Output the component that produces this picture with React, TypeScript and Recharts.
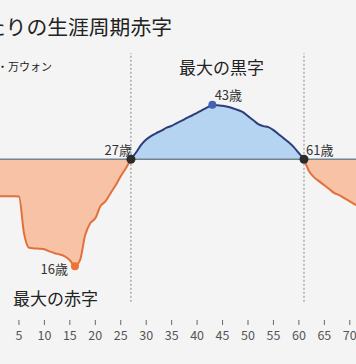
import React from 'react';
import { ComposedChart, Area, XAxis, YAxis, ReferenceLine, ReferenceDot } from 'recharts';

const ages = [
  0, 1, 2, 3, 4, 5, 6, 7, 8, 9, 10, 11, 12, 13, 14, 15, 16, 17, 18, 19,
  20, 21, 22, 23, 24, 25, 26, 27, 28, 29, 30, 31, 32, 33, 34, 35, 36, 37, 38, 39,
  40, 41, 42, 43, 44, 45, 46, 47, 48, 49, 50, 51, 52, 53, 54, 55, 56, 57, 58, 59,
  60, 61, 62, 63, 64, 65, 66, 67, 68, 69, 70, 71, 72, 73, 74, 75,
];

// 万ウォン
const deficit = [
  -1220, -1220, -1220, -1220, -1220, -1230, -2450, -2920, -2940, -2950,
  -2970, -3040, -3100, -3140, -3200, -3330, -3527, -3330, -2510, -2110,
  -1950, -1550, -1390, -1120, -860, -560, -300, 0, 220, 470,
  650, 770, 860, 940, 1040, 1100, 1190, 1270, 1360, 1440,
  1530, 1620, 1705, 1792, 1775, 1760, 1730, 1680, 1620, 1550,
  1420, 1290, 1155, 1090, 1055, 960, 825, 690, 560, 400,
  200, 0, -400, -600, -730, -860, -990, -1120, -1190, -1290,
  -1390, -1490, -1570, -1640, -1700, -1760,
];

const xTicks = [5, 10, 15, 20, 25, 30, 35, 40, 45, 50, 55, 60, 65, 70];
const surplusStart = 27;
const surplusEnd = 61;
const maxDeficitAge = 16;
const maxSurplusAge = 43;

const data = ages.map((age, i) => ({
  age,
  pos: age >= surplusStart && age <= surplusEnd ? deficit[i] : null,
  neg: age <= surplusStart || age >= surplusEnd ? deficit[i] : null,
}));

const valueAt = (age: number) => deficit[ages.indexOf(age)];

const FONT = "'Noto Sans CJK JP', 'Noto Sans', sans-serif";

const makeLabel = (text: string, dx: number, dy: number, anchor: string) => (props: any) => {
  const vb = props.viewBox || {};
  const cx = (vb.x ?? 0) + (vb.width ?? 0) / 2;
  const cy = (vb.y ?? 0) + (vb.height ?? 0) / 2;
  return (
    <text x={cx + dx} y={cy + dy} textAnchor={anchor} fontSize={13} fill="#333" fontFamily={FONT}>
      {text}
    </text>
  );
};

export default function App() {
  return (
    <div
      style={{
        position: 'absolute',
        left: 0,
        top: 0,
        width: 356,
        height: 364,
        overflow: 'hidden',
        background: '#f4f4f4',
        fontFamily: FONT,
      }}
    >
      <div style={{ position: 'absolute', left: -20, top: 0 }}>
        <ComposedChart
          width={405.25}
          height={364}
          data={data}
          margin={{ top: 53, right: 10, bottom: 14, left: 13.5 }}
        >
          <XAxis
            dataKey="age"
            type="number"
            domain={[0, 75]}
            ticks={xTicks}
            axisLine={false}
            tickLine={{ stroke: '#666', strokeWidth: 1 }}
            tickSize={5}
            tickMargin={6}
            height={30}
            interval={0}
            tick={{ fontSize: 12.5, fill: '#555', fontFamily: FONT }}
          />
          <YAxis hide domain={[-5300, 3500]} type="number" />
          <ReferenceLine
            segment={[{ x: surplusStart, y: -4700 }, { x: surplusStart, y: 3500 }]}
            stroke="#888"
            strokeDasharray="2 2"
          />
          <ReferenceLine
            segment={[{ x: surplusEnd, y: -4700 }, { x: surplusEnd, y: 3500 }]}
            stroke="#888"
            strokeDasharray="2 2"
          />
          <Area
            type="monotone"
            dataKey="neg"
            stroke="#e2703a"
            strokeWidth={2}
            fill="#f8c2a6"
            fillOpacity={1}
            isAnimationActive={false}
            dot={false}
            activeDot={false}
          />
          <Area
            type="monotone"
            dataKey="pos"
            stroke="#2c3d7c"
            strokeWidth={2}
            fill="#b4d4f1"
            fillOpacity={1}
            isAnimationActive={false}
            dot={false}
            activeDot={false}
          />
          <ReferenceLine y={0} stroke="#74848e" strokeWidth={1.5} />
          <ReferenceDot
            x={maxDeficitAge}
            y={valueAt(maxDeficitAge)}
            r={4}
            fill="#ee7333"
            stroke="none"
            label={makeLabel('16歳', -7, 8, 'end')}
          />
          <ReferenceDot
            x={maxSurplusAge}
            y={valueAt(maxSurplusAge)}
            r={4}
            fill="#4760b4"
            stroke="none"
            label={makeLabel('43歳', 16, -5, 'middle')}
          />
          <ReferenceDot
            x={surplusStart}
            y={0}
            r={4.5}
            fill="#2b2b2b"
            stroke="none"
            label={makeLabel('27歳', 1, -4, 'end')}
          />
          <ReferenceDot
            x={surplusEnd}
            y={0}
            r={4.5}
            fill="#2b2b2b"
            stroke="none"
            label={makeLabel('61歳', 2, -4, 'start')}
          />
        </ComposedChart>
      </div>
      <svg
        width={356}
        height={364}
        style={{ position: 'absolute', left: 0, top: 0, pointerEvents: 'none' }}
      >
        <text x={172} y={35} textAnchor="end" fontSize={20.8} fill="#222" fontFamily={FONT}>
          1人当たりの生涯周期赤字
        </text>
        <text x={52} y={71} textAnchor="end" fontSize={11} fill="#222" fontFamily={FONT}>
          単位・万ウォン
        </text>
        <text x={179} y={74} fontSize={17} fill="#222" fontFamily={FONT}>
          最大の黒字
        </text>
        <text x={13} y={305} fontSize={17} fill="#222" fontFamily={FONT}>
          最大の赤字
        </text>
      </svg>
    </div>
  );
}
